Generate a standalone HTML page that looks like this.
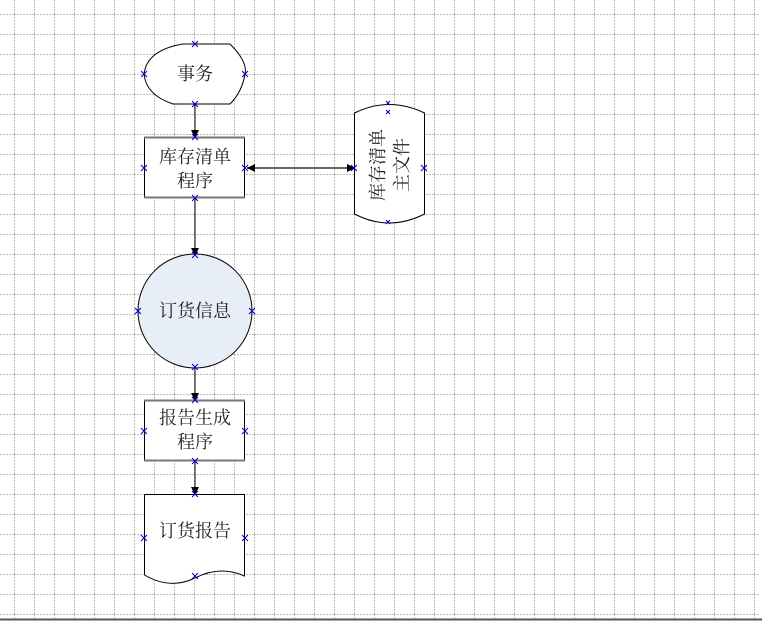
<!DOCTYPE html>
<html><head><meta charset="utf-8"><style>
html,body{margin:0;padding:0;background:#fff;}
body{width:762px;height:621px;overflow:hidden;font-family:"Liberation Serif","Noto Serif CJK SC",serif;}
</style></head><body>
<svg width="762" height="621" xmlns="http://www.w3.org/2000/svg" font-family="Liberation Serif, Noto Serif CJK SC, serif">
<defs>
<pattern id="g" x="14" y="14" width="20" height="20" patternUnits="userSpaceOnUse">
<path d="M0 0.5H20M0.5 0V20" stroke="#bdbdbd" stroke-width="1" stroke-dasharray="2,1" fill="none"/>
</pattern>
<marker id="a" markerWidth="8" markerHeight="8" refX="7" refY="4" orient="auto" markerUnits="userSpaceOnUse"><path d="M0 0L8 4L0 8z" fill="#000"/></marker>
</defs>
<rect x="0" y="0" width="760" height="619" fill="url(#g)"/>
<line x1="0" y1="619.5" x2="762" y2="619.5" stroke="#555" stroke-width="2"/>
<g stroke="#000" fill="none" stroke-width="1">
<line x1="195" y1="104" x2="195" y2="137" marker-end="url(#a)"/>
<line x1="195" y1="198" x2="195" y2="255" marker-end="url(#a)"/>
<line x1="195" y1="367" x2="195" y2="400" marker-end="url(#a)"/>
<line x1="195" y1="461" x2="195" y2="494" marker-end="url(#a)"/>
</g>
<line x1="247" y1="168" x2="354" y2="168" stroke="#666" stroke-width="2" marker-end="url(#a)"/>
<path d="M255 164L247 168L255 172z" fill="#000"/>
<path d="M183 44H230Q248 62 245 74Q242 92 230 104H173Q146 95 144 74Q147 50 183 44z" fill="#fff" stroke="#000"/>
<rect x="144.5" y="137.5" width="100" height="60" fill="#fff" stroke="#000"/>
<line x1="144" y1="137.5" x2="245" y2="137.5" stroke="#777" stroke-width="2"/>
<line x1="144" y1="197.5" x2="245" y2="197.5" stroke="#777" stroke-width="2"/>
<path d="M354.5 113Q389 96 424.5 113V214Q389 232 354.5 214z" fill="#fff" stroke="#000"/>
<circle cx="195" cy="311" r="57" fill="#e8eef8" stroke="#000"/>
<rect x="144.5" y="400.5" width="100" height="60" fill="#fff" stroke="#000"/>
<line x1="144" y1="400.5" x2="245" y2="400.5" stroke="#777" stroke-width="2"/>
<line x1="144" y1="460.5" x2="245" y2="460.5" stroke="#777" stroke-width="2"/>
<path d="M144.5 494.5H244.5V576Q220 565 195 578Q170 590 144.5 575z" fill="#fff" stroke="#000"/>
<g font-size="18" fill="#222" text-anchor="middle">
<text x="195" y="80">事务</text>
<text x="195" y="163">库存清单</text>
<text x="195" y="187">程序</text>
<text x="195" y="317">订货信息</text>
<text x="195" y="424">报告生成</text>
<text x="195" y="448">程序</text>
<text x="195" y="537">订货报告</text>
<g transform="translate(389 165) rotate(-90)">
<text x="0" y="-5">库存清单</text>
<text x="0" y="19">主文件</text>
</g>
</g>
<g stroke="#0000cc" stroke-width="1" fill="none">
<path d="M192 41l6 6M198 41l-6 6M141 71l6 6M147 71l-6 6M242 71l6 6M248 71l-6 6M192 101l6 6M198 101l-6 6"/>
<path d="M192 134l6 6M198 134l-6 6M141 165l6 6M147 165l-6 6M242 165l6 6M248 165l-6 6M192 195l6 6M198 195l-6 6"/>
<path d="M386 101l4 4M390 101l-4 4M386 110l4 4M390 110l-4 4M351 165l6 6M357 165l-6 6M421 165l6 6M427 165l-6 6M386 220l4 4M390 220l-4 4"/>
<path d="M192 252l6 6M198 252l-6 6M135 308l6 6M141 308l-6 6M249 308l6 6M255 308l-6 6M192 364l6 6M198 364l-6 6"/>
<path d="M192 397l6 6M198 397l-6 6M141 428l6 6M147 428l-6 6M242 428l6 6M248 428l-6 6M192 458l6 6M198 458l-6 6"/>
<path d="M192 491l6 6M198 491l-6 6M141 535l6 6M147 535l-6 6M242 535l6 6M248 535l-6 6M192 573l6 6M198 573l-6 6"/>
</g>
</svg>
</body></html>
